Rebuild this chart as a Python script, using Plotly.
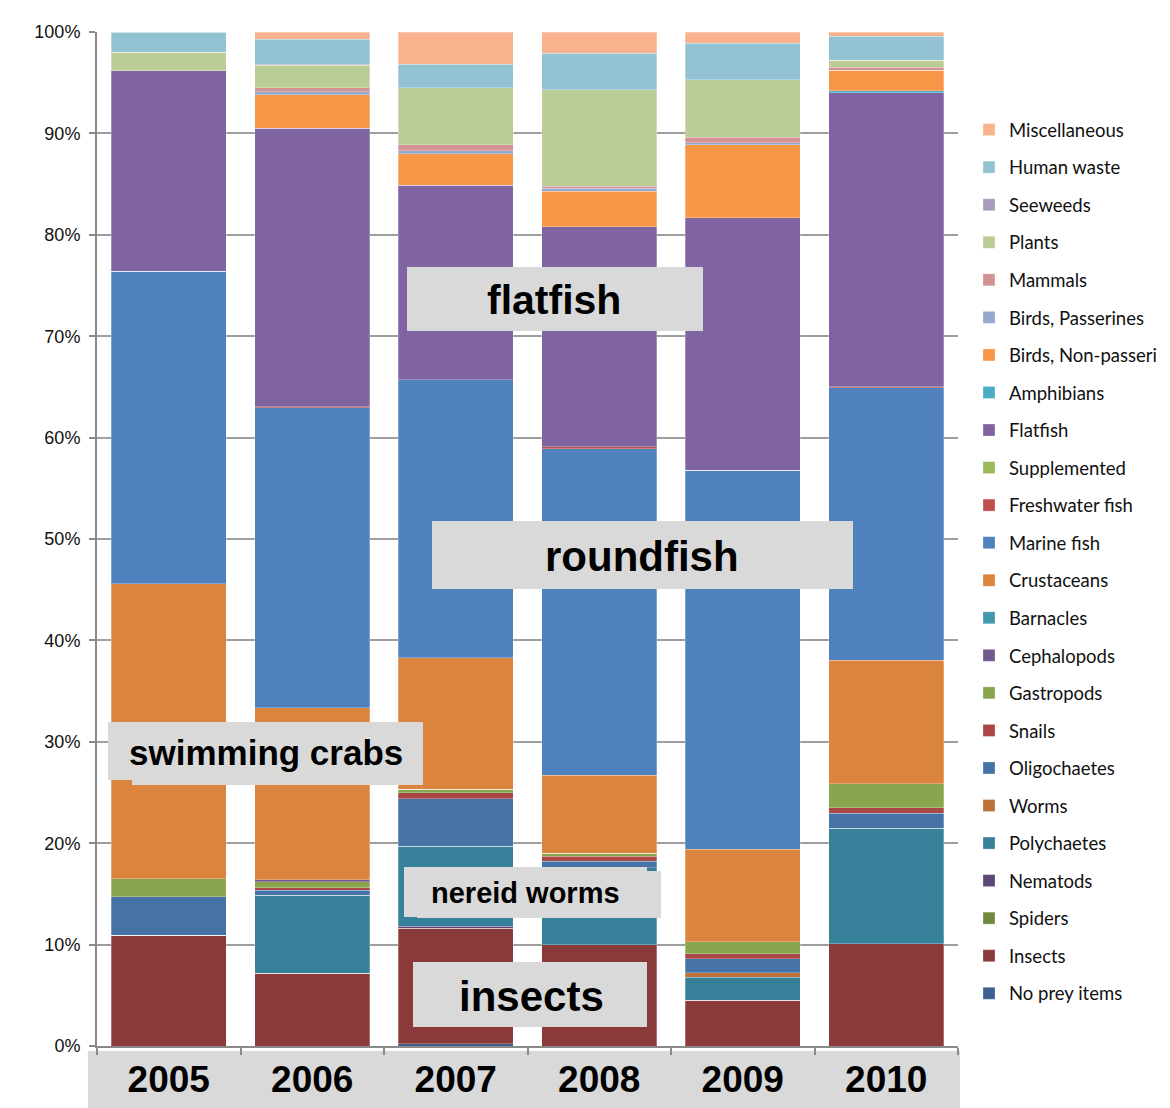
import plotly.graph_objects as go

years = ["2005", "2006", "2007", "2008", "2009", "2010"]

# series listed bottom -> top of the stack
no_prey      = [0.0, 0.0, 0.2, 0.0, 0.0, 0.0]
insects      = [10.9, 7.2, 11.4, 10.0, 4.5, 10.1]
spiders      = [0.0, 0.0, 0.0, 0.0, 0.0, 0.0]
nematods     = [0.0, 0.0, 0.2, 0.0, 0.0, 0.0]
polychaetes  = [0.0, 7.7, 7.9, 7.6, 2.3, 11.4]
worms        = [0.0, 0.0, 0.0, 0.0, 0.4, 0.0]
oligochaetes = [3.8, 0.5, 4.7, 0.6, 1.4, 1.5]
snails       = [0.0, 0.2, 0.6, 0.5, 0.5, 0.5]
gastropods   = [1.8, 0.6, 0.3, 0.3, 1.2, 2.4]
cephalopods  = [0.0, 0.2, 0.0, 0.0, 0.0, 0.0]
barnacles    = [0.0, 0.0, 0.0, 0.0, 0.0, 0.0]
crustaceans  = [29.1, 17.0, 13.0, 7.7, 9.1, 12.2]
marine_fish  = [30.8, 29.6, 27.4, 32.2, 37.4, 26.9]
fresh_fish   = [0.0, 0.1, 0.0, 0.2, 0.0, 0.1]
supplemented = [0.0, 0.0, 0.0, 0.0, 0.0, 0.0]
flatfish     = [19.8, 27.5, 19.2, 21.7, 24.9, 29.0]
amphibians   = [0.0, 0.0, 0.0, 0.0, 0.0, 0.2]
birds_nonp   = [0.0, 3.3, 3.1, 3.5, 7.2, 2.0]
birds_pass   = [0.0, 0.3, 0.3, 0.3, 0.2, 0.0]
mammals      = [0.0, 0.4, 0.6, 0.2, 0.5, 0.3]
plants       = [1.8, 2.2, 5.6, 9.5, 5.7, 0.7]
seeweeds     = [0.0, 0.1, 0.0, 0.0, 0.0, 0.0]
human_waste  = [2.0, 2.5, 2.3, 3.6, 3.6, 2.4]
misc         = [0.0, 0.7, 3.2, 2.1, 1.1, 0.4]

series = [
    ("No prey items", no_prey, "#3C6090"),
    ("Insects", insects, "#8B3A3A"),
    ("Spiders", spiders, "#71893F"),
    ("Nematods", nematods, "#5C4776"),
    ("Polychaetes", polychaetes, "#37809A"),
    ("Worms", worms, "#BC7238"),
    ("Oligochaetes", oligochaetes, "#4572A7"),
    ("Snails", snails, "#AA4643"),
    ("Gastropods", gastropods, "#89A54E"),
    ("Cephalopods", cephalopods, "#71588F"),
    ("Barnacles", barnacles, "#4198AF"),
    ("Crustaceans", crustaceans, "#DB843D"),
    ("Marine fish", marine_fish, "#4F81BD"),
    ("Freshwater fish", fresh_fish, "#C0504D"),
    ("Supplemented", supplemented, "#9BBB59"),
    ("Flatfish", flatfish, "#8064A2"),
    ("Amphibians", amphibians, "#4BACC6"),
    ("Birds, Non-passeri", birds_nonp, "#F79646"),
    ("Birds, Passerines", birds_pass, "#95A9D0"),
    ("Mammals", mammals, "#D59293"),
    ("Plants", plants, "#BBCD96"),
    ("Seeweeds", seeweeds, "#A99BBD"),
    ("Human waste", human_waste, "#93C3D3"),
    ("Miscellaneous", misc, "#F9B28E"),
]

fig = go.Figure()
for i, (name, vals, col) in enumerate(series):
    fig.add_trace(go.Bar(
        name=name, x=years, y=vals, legendgroup=name, legendrank=1000 - i,
        marker=dict(color=col, line=dict(color="rgba(255,255,255,0.45)", width=0.6)),
    ))

W, H = 1170, 1108
L, R, T, B = 97, 958, 32, 1046


def px(xp):
    return (xp - L) / (R - L)


def py(yp):
    return (B - yp) / (B - T)


shapes = [
    # x label band
    dict(type="rect", xref="paper", yref="paper", x0=px(88), x1=px(960), y0=py(1108), y1=py(1051),
         fillcolor="#D9D9D9", line=dict(width=0), layer="below"),
]
boxes = [
    (407, 703, 267, 331),
    (432, 853, 521, 589),
    (108, 423, 722, 780),
    (132, 423, 722, 785),
    (404, 647, 867, 917),
    (417, 661, 871, 918),
    (413, 647, 962, 1027),
]
for x0, x1, y0, y1 in boxes:
    shapes.append(dict(type="rect", xref="paper", yref="paper", x0=px(x0), x1=px(x1),
                       y0=py(y1), y1=py(y0), fillcolor="#D9D9D9", line=dict(width=0), layer="above"))

labels = [
    ("flatfish", 554, 300, 41),
    ("roundfish", 642, 556, 42),
    ("swimming crabs", 266, 752, 35),
    ("nereid worms", 525, 893, 29),
    ("insects", 531, 996, 42),
]
annotations = []
for txt, cx, cy, fs in labels:
    annotations.append(dict(text=txt, xref="paper", yref="paper", x=px(cx), y=py(cy),
                            xanchor="center", yanchor="middle", showarrow=False,
                            font=dict(family="Liberation Sans, Arial", size=fs, color="black", weight="bold")))

fig.update_layout(
    barmode="stack",
    barnorm="percent",
    bargap=0.2,
    width=W, height=H,
    margin=dict(l=L, r=W - R, t=T, b=H - B, pad=0, autoexpand=False),
    paper_bgcolor="white",
    plot_bgcolor="white",
    shapes=shapes,
    annotations=annotations,
    legend=dict(
        x=px(969), xanchor="left", y=0.922, yanchor="top",
        traceorder="grouped", tracegroupgap=10.5,
        font=dict(family="Lato, Open Sans, sans-serif", size=18.5, color="#111"),
        bgcolor="rgba(0,0,0,0)",
    ),
    xaxis=dict(
        showline=True, linecolor="#8A8A8A", linewidth=2,
        ticks="outside", tickson="boundaries", ticklen=7, tickcolor="#8A8A8A", tickwidth=2,
        tickfont=dict(family="Liberation Sans, Arial", size=37, color="black", weight="bold"),
        ticklabelstandoff=0,
        showgrid=False, automargin=False,
    ),
    yaxis=dict(
        range=[0, 100], dtick=10, ticksuffix="%",
        showline=True, linecolor="#8A8A8A", linewidth=2,
        ticks="outside", ticklen=6, tickcolor="#8A8A8A", tickwidth=2,
        showgrid=True, gridcolor="#9E9E9E", gridwidth=1.5,
        tickfont=dict(family="Liberation Sans, Arial", size=18, color="#111"),
        ticklabelstandoff=5,
        zeroline=False, automargin=False,
    ),
)

fig.write_html("out.html", config={"displayModeBar": False},
               post_script="document.body.style.margin='0';document.body.style.overflow='hidden';")
